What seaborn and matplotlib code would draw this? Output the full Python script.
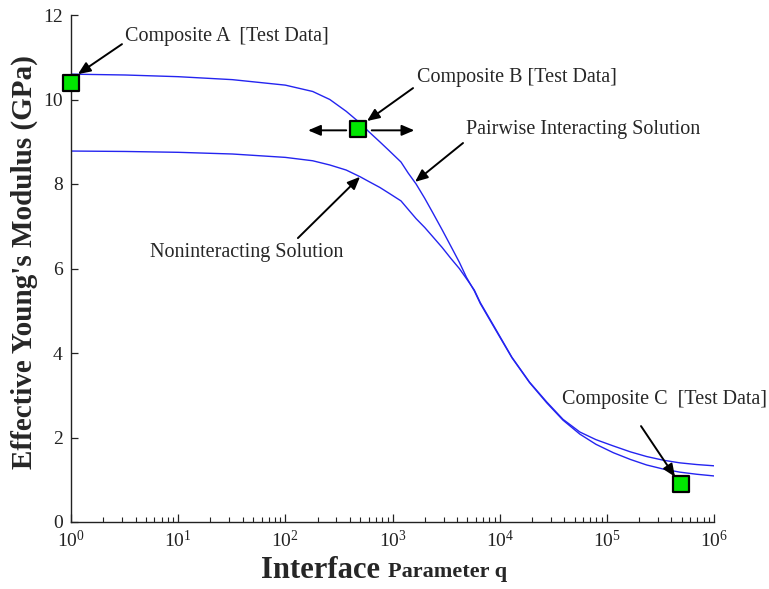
import matplotlib
matplotlib.use("Agg")
import matplotlib.pyplot as plt
from matplotlib.ticker import FixedLocator, LogFormatterMathtext, NullFormatter
import seaborn as sns

# Interface parameter q (log axis) and effective modulus (GPa) along each model curve
q_curve = [1, 3.2, 10, 32, 100, 180, 260, 370, 500, 600, 760, 930, 1200, 1400, 1660,
           2000, 2400, 2900, 3500, 4200, 4900, 5800, 6600, 9300, 13000, 19000, 27500,
           39000, 56000, 79000, 115000, 166000, 235000, 340000, 480000, 690000, 1000000]
pairwise = [10.60, 10.58, 10.54, 10.47, 10.34, 10.19, 10.00, 9.72, 9.44, 9.24, 9.00,
            8.79, 8.52, 8.26, 8.00, 7.66, 7.30, 6.92, 6.53, 6.15, 5.79, 5.47, 5.17,
            4.52, 3.89, 3.30, 2.82, 2.41, 2.08, 1.84, 1.64, 1.48, 1.35, 1.25, 1.18,
            1.13, 1.09]
noninteracting = [8.78, 8.77, 8.75, 8.71, 8.63, 8.55, 8.45, 8.33, 8.17, 8.06, 7.92,
                  7.78, 7.60, 7.40, 7.18, 6.97, 6.74, 6.50, 6.24, 6.00, 5.76, 5.49,
                  5.19, 4.54, 3.90, 3.31, 2.84, 2.43, 2.13, 1.95, 1.80, 1.66, 1.55,
                  1.46, 1.40, 1.36, 1.33]

# Measured composites
test_names = ["Composite A", "Composite B", "Composite C"]
test_q = [1, 480, 490000]
test_modulus = [10.4, 9.3, 0.9]

x_ticks = [1, 10, 100, 1000, 10000, 100000, 1000000]
y_ticks = [0, 2, 4, 6, 8, 10, 12]

sns.set_style("ticks")
plt.rcParams["font.family"] = ["Liberation Serif", "DejaVu Serif"]
plt.rcParams["mathtext.fontset"] = "custom"
plt.rcParams["mathtext.rm"] = "Liberation Serif"
plt.rcParams["mathtext.it"] = "Liberation Serif:italic"
plt.rcParams["mathtext.bf"] = "Liberation Serif:bold"

fig = plt.figure(figsize=(7.69, 5.89), dpi=100)
ax = fig.add_axes([71 / 769, 1 - 522 / 589, (714 - 71) / 769, (522 - 15) / 589])
ax.set_xscale("log")

line_color = "#2424f0"
sns.lineplot(x=q_curve, y=pairwise, ax=ax, color=line_color, linewidth=1.0,
             estimator=None)
sns.lineplot(x=q_curve, y=noninteracting, ax=ax, color=line_color, linewidth=1.0,
             estimator=None)
sns.scatterplot(x=test_q, y=test_modulus, ax=ax, marker="s", s=125,
                color="#00e600", edgecolor="black", linewidth=1.6, zorder=5,
                clip_on=False)

ax.set_xlim(1, 1e6)
ax.set_ylim(0, 12)
ax.set_yticks(y_ticks)
ax.set_yticklabels([str(v) for v in y_ticks])
ax.xaxis.set_major_locator(FixedLocator(x_ticks))
ax.xaxis.set_major_formatter(LogFormatterMathtext())
minor_ticks = [m * d for d in x_ticks[:-1] for m in range(2, 10)]
ax.xaxis.set_minor_locator(FixedLocator(minor_ticks))
ax.xaxis.set_minor_formatter(NullFormatter())

ax.tick_params(axis="both", which="major", direction="in", labelsize=14,
               width=0.9, color="#222222", labelcolor="#222222")
ax.tick_params(axis="x", which="major", length=6, pad=6)
ax.tick_params(axis="x", which="minor", direction="in", length=3.6, width=0.8,
               color="#222222")
ax.tick_params(axis="y", which="major", length=5, pad=6)

for side in ("top", "right"):
    ax.spines[side].set_visible(False)
for side in ("left", "bottom"):
    ax.spines[side].set_linewidth(1.0)
    ax.spines[side].set_color("#222222")

ax.set_ylabel("Effective Young's Modulus (GPa)", fontsize=21, fontweight="bold",
              va="center")
ax.yaxis.set_label_coords(-(71 - 24) / 643, (522 - 262) / 507)
fig.text(380 / 769, 1 - 570 / 589, "Interface", fontsize=22, fontweight="bold",
         ha="right", va="center")
fig.text(388 / 769, 1 - 572 / 589, "Parameter q", fontsize=16, fontweight="bold",
         ha="left", va="center")

arrow = dict(arrowstyle="-|>,head_length=0.75,head_width=0.32", color="black",
             lw=1.4, shrinkA=0, shrinkB=0)
label_size = 14.5

# Composite A
ax.text(3.2, 11.48, "Composite A  [Test Data]", fontsize=label_size, va="center",
        ha="left")
ax.annotate("", xy=(1.16, 10.6), xytext=(2.99, 11.31), arrowprops=arrow,
            annotation_clip=False)

# Composite B
ax.text(1690, 10.51, "Composite B [Test Data]", fontsize=label_size, va="center",
        ha="left")
ax.annotate("", xy=(578, 9.49), xytext=(1555, 10.27), arrowprops=arrow)
ax.annotate("", xy=(163, 9.27), xytext=(370, 9.27), arrowprops=arrow)
ax.annotate("", xy=(1600, 9.27), xytext=(640, 9.27), arrowprops=arrow)

# Pairwise interacting curve
ax.text(4850, 9.28, "Pairwise Interacting Solution", fontsize=label_size,
        va="center", ha="left")
ax.annotate("", xy=(1622, 8.05), xytext=(4550, 8.97), arrowprops=arrow)

# Noninteracting curve
ax.text(5.46, 6.39, "Noninteracting Solution", fontsize=label_size, va="center",
        ha="left")
ax.annotate("", xy=(498, 8.17), xytext=(131, 6.72), arrowprops=arrow)

# Composite C
ax.text(38100, 2.91, "Composite C  [Test Data]", fontsize=label_size, va="center",
        ha="left")
ax.annotate("", xy=(432500, 1.07), xytext=(208400, 2.27), arrowprops=arrow)

fig.savefig("out.png", dpi=100)
